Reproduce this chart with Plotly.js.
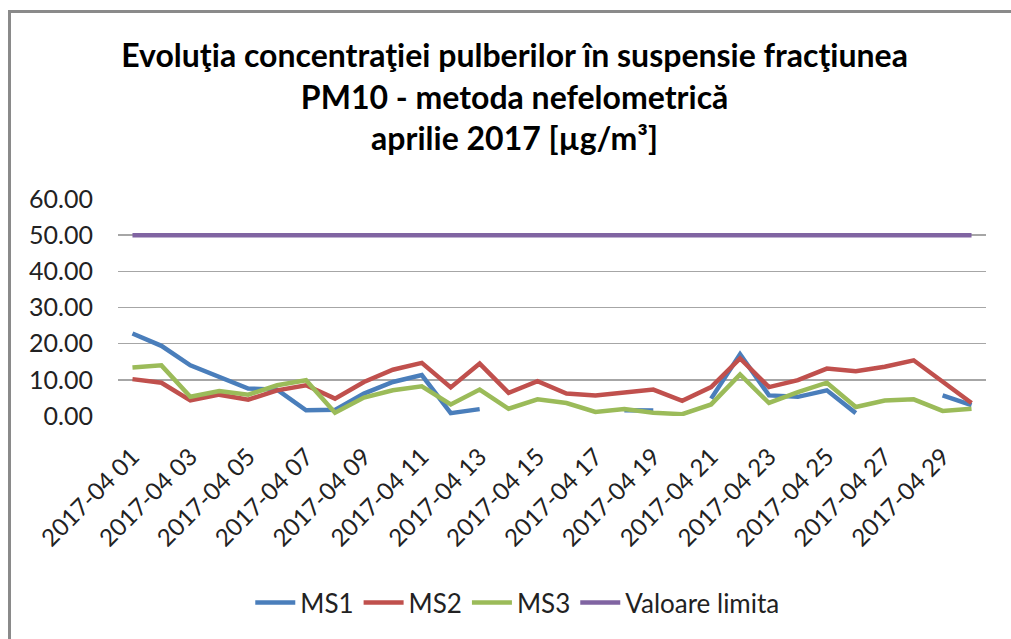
<!DOCTYPE html>
<html>
<head>
<meta charset="utf-8">
<script src="https://cdn.plot.ly/plotly-3.0.1.min.js"></script>
<style>
  body { margin: 0; background: #fff; }
  #chart { position: absolute; left: 0; top: 0; width: 1011px; height: 639px; }
  /* Excel chart frame, only left and top edges are inside the picture */
  #frame { position: absolute; left: 8px; top: 10px; width: 1100px; height: 700px;
           border-left: 3px solid #8a8a8a; border-top: 3px solid #8a8a8a; pointer-events: none; }
</style>
</head>
<body>
<div id="chart"></div>
<div id="frame"></div>
<script>
// Days of April 2017
days = [];
for (var d = 1; d <= 30; d++) {
    days.push("2017-04 " + (d < 10 ? "0" + d : "" + d));
}

ms1 = [22.8, 19.4, 14.0, 10.8, 7.6, 7.3, 1.6, 1.7, 6.2, 9.4,
       11.3, 0.8, 1.9, null, null, null, null, 1.6, 1.5, null,
       4.8, 17.1, 5.7, 5.3, 7.1, 0.8, null, null, 5.7, 3.0];
ms2 = [10.2, 9.2, 4.3, 5.9, 4.5, 7.1, 8.5, 4.8, 9.4, 12.8,
       14.7, 7.9, 14.5, 6.4, 9.6, 6.2, 5.7, 6.6, 7.3, 4.2,
       8.0, 15.9, 8.0, 9.9, 13.1, 12.4, 13.6, 15.4, 9.4, 3.6];
ms3 = [13.4, 14.0, 5.3, 6.9, 5.9, 8.5, 9.9, 0.9, 5.1, 7.1,
       8.2, 3.2, 7.3, 2.0, 4.6, 3.6, 1.1, 1.9, 0.9, 0.5,
       3.2, 11.5, 3.6, 6.6, 9.2, 2.5, 4.3, 4.6, 1.4, 2.0];
limit = [];
for (var i = 0; i < 30; i++) limit.push(50);

// Every other day is labelled
tick_days = days.filter(function (v, i) { return i % 2 == 0; });

var font = "Lato, 'Open Sans', sans-serif";

function series(name, y, color) {
    return {x: days, y: y, name: name, type: 'scatter', mode: 'lines',
            connectgaps: false,
            line: {color: color, width: 4.5}};
}

var data = [
    series("MS1", ms1, "#4a7ebb"),
    series("MS2", ms2, "#c0504d"),
    series("MS3", ms3, "#9bbb59"),
    series("Valoare limita", limit, "#8064a2")
];

var layout = {
    width: 1011,
    height: 639,
    margin: {l: 118, r: 25, t: 199, b: 223},
    paper_bgcolor: "rgba(0,0,0,0)",
    plot_bgcolor: "#fff",
    showlegend: true,
    title: {
        text: "<b>Evoluţia concentraţiei pulberilor în suspensie fracţiunea<br>PM10 - metoda nefelometrică<br>aprilie 2017 [µg/m³]</b>",
        font: {family: font, size: 32, color: "#000"},
        x: 0.509, xanchor: "center",
        y: 0.895, yanchor: "middle"
    },
    xaxis: {
        type: 'category',
        range: [-0.5, 29.5],
        tickvals: tick_days,
        ticktext: tick_days,
        tickangle: -45,
        tickfont: {family: font, size: 24, color: "#222"},
        ticks: "",
        showgrid: false,
        showline: false,
        zeroline: false,
        ticklabelstandoff: 21
    },
    yaxis: {
        range: [0, 60],
        dtick: 10,
        tickformat: ".2f",
        tickfont: {family: font, size: 25, color: "#222"},
        showgrid: true,
        gridcolor: "#a6a6a6",
        gridwidth: 1.5,
        zeroline: false,
        showline: false,
        ticks: "",
        ticklabelstandoff: 24
    },
    legend: {
        orientation: "h",
        x: 0.46, xanchor: "center",
        y: -0.86, yanchor: "middle",
        font: {family: font, size: 26, color: "#222"},
        itemwidth: 40,
        tracegroupgap: 0
    }
};

Plotly.newPlot("chart", data, layout, {displayModeBar: false, staticPlot: true});
</script>
</body>
</html>
